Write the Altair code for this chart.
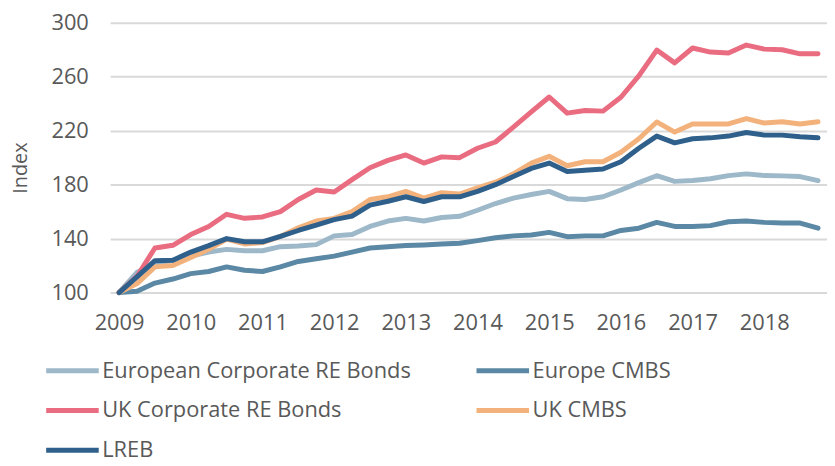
import altair as alt
import pandas as pd

# Quarterly index values, 2009 Q1 .. 2018 Q4 (40 points)
quarters = [2009 + i / 4 for i in range(40)]

eur_corp = [100, 115, 121, 124, 127, 130, 132, 131, 131, 134,
            134.5, 135.5, 142, 143, 149, 153, 155, 153, 155.6, 156.5,
            161, 166, 170, 172.7, 175, 169.6, 169, 171, 176, 181.5,
            186.6, 182.4, 183, 184.4, 186.7, 188, 186.7, 186.5, 186, 183]
eur_cmbs = [100, 101, 107, 110, 114, 115.6, 119, 116.5, 115.6, 119,
            123, 125, 127, 130, 133, 134, 134.8, 135.3, 136, 136.5,
            138.5, 140.6, 142, 142.6, 144.6, 141.4, 142, 142, 146, 147.7,
            152, 149, 149, 149.6, 152.5, 153, 152, 151.5, 151.5, 147.7]
uk_corp = [100, 112, 133, 135, 143, 149, 158, 155, 156, 160,
           169, 176, 174.5, 183.7, 192.5, 198, 202, 196, 200.6, 200,
           207, 211.6, 222.6, 234, 245, 233, 235, 234.5, 244.8, 260.7,
           279.8, 270.3, 281.3, 278.3, 277.6, 283.5, 280.5, 280, 277, 277]
uk_cmbs = [100, 106.6, 119, 120, 126, 132, 139.6, 136, 137, 141.6,
           148, 153, 155, 160, 169, 171, 175, 170, 174, 173,
           177.6, 181.8, 188, 196, 201, 194, 197, 197, 204, 214,
           226.5, 219, 225, 225, 225, 229, 225.7, 226.6, 225, 226.6]
lreb = [100, 111.6, 123.6, 124, 130, 134.8, 140, 137.6, 137.6, 141.6,
        146, 150, 154, 156.7, 164.8, 167.7, 171, 167.5, 171, 171,
        175, 180, 186, 192, 196, 189.7, 190.6, 191.6, 197, 207,
        216, 211, 214, 214.7, 216, 218.7, 216.7, 216.7, 215.5, 214.7]

# drawing order (LREB last = on top)
series_names = ["European Corporate RE Bonds", "Europe CMBS",
                "UK Corporate RE Bonds", "UK CMBS", "LREB"]
series_values = [eur_corp, eur_cmbs, uk_corp, uk_cmbs, lreb]
series_colors = ["#9db8c9", "#5b88a4", "#e96c80", "#f3b27c", "#2f5f8b"]

# legend order (legend fills column by column, 3 rows)
legend_order = ["European Corporate RE Bonds", "UK Corporate RE Bonds", "LREB",
                "Europe CMBS", "UK CMBS"]
legend_colors = [series_colors[series_names.index(n)] for n in legend_order]

year_ticks = list(range(2009, 2019))
y_ticks = [100, 140, 180, 220, 260, 300]

rows = []
for k, (name, vals) in enumerate(zip(series_names, series_values)):
    for q, v in zip(quarters, vals):
        rows.append({"quarter": q, "value": v, "series": name, "k": k})
df = pd.DataFrame(rows)

FONT = "Open Sans"
TXT = "#595959"

chart = (
    alt.Chart(df)
    .mark_line(strokeWidth=5, strokeJoin="round", strokeCap="round")
    .encode(
        x=alt.X(
            "quarter:Q",
            scale=alt.Scale(domain=[2008.875, 2018.875], nice=False, zero=False),
            axis=alt.Axis(
                values=year_ticks, format="d", grid=False, ticks=False,
                domain=False, title=None, labelFontSize=22, labelColor=TXT,
                labelFont=FONT, labelPadding=20,
            ),
        ),
        y=alt.Y(
            "value:Q",
            scale=alt.Scale(domain=[100, 300], nice=False, zero=False),
            axis=alt.Axis(
                values=y_ticks, grid=True, gridColor="#d9d9d9", gridWidth=2,
                ticks=False, domain=False, title="Index", labelFontSize=22,
                labelColor=TXT, labelFont=FONT, labelPadding=22,
                titleFont=FONT, titleFontSize=20, titleColor=TXT,
                titleFontWeight="normal", titleX=-90, titleY=146,
                titleBaseline="middle", titleAngle=270,
            ),
        ),
        color=alt.Color(
            "series:N",
            scale=alt.Scale(domain=legend_order, range=legend_colors),
            legend=alt.Legend(
                title=None, orient="none", legendX=-67, legendY=322,
                columns=2, symbolType="stroke", symbolSize=2809,
                symbolStrokeWidth=5, labelFontSize=22, labelColor=TXT,
                labelFont=FONT, labelOffset=1, rowPadding=-9,
                columnPadding=55, labelLimit=400, padding=0,
            ),
        ),
        detail="k:O",
        order="quarter:Q",
    )
    .properties(
        width=723, height=272,
        autosize=alt.AutoSizeParams(type="none"),
        padding={"left": 103, "top": 13, "right": 0, "bottom": 170},
    )
    .configure_view(stroke=None)
)

chart.save("out.html", embed_options={"renderer": "svg", "actions": False})
